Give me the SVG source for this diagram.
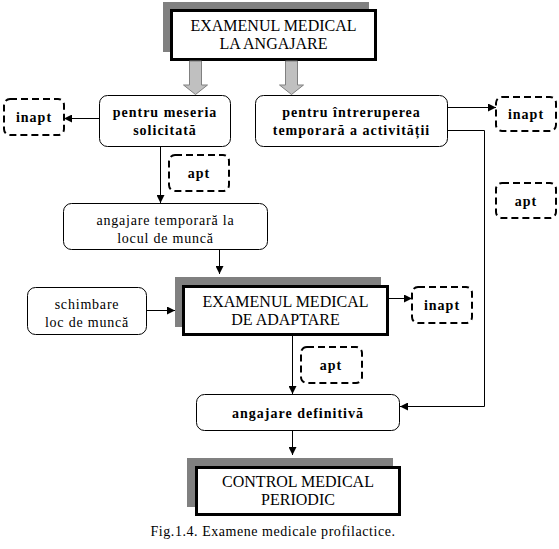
<svg xmlns="http://www.w3.org/2000/svg" width="559" height="549" viewBox="0 0 559 549" font-family="Liberation Serif, Times New Roman, serif">
<style>
text{font-family:'Liberation Serif','Times New Roman',serif;fill:#000;text-anchor:middle}
.t{font-size:16px}
.b{font-size:14px;font-weight:bold;letter-spacing:1px}
.r{font-size:14px;letter-spacing:0.8px}
.cap{font-size:14px;letter-spacing:0.55px}
.shadow{fill:#808080}
.main{fill:#fff;stroke:#000;stroke-width:3}
.rnd{fill:#fff;stroke:#000;stroke-width:1}
.dash{fill:#fff;stroke:#000;stroke-width:2;stroke-dasharray:7 4}
.ln{fill:none;stroke:#000;stroke-width:1}
.garrow{fill:#c0c0c0;stroke:#808080;stroke-width:1}
</style>
<defs>
<marker id="ah" viewBox="0 0 8 8" refX="8" refY="4" markerWidth="8" markerHeight="8" markerUnits="userSpaceOnUse" orient="auto">
<path d="M0,0 L8,4 L0,8 z" fill="#000"/>
</marker>
</defs>

<g id="exam-angajare">
<rect class="shadow" x="163" y="2" width="206" height="50"/>
<rect class="main" x="171.5" y="10.5" width="204" height="49"/>
<text class="t" x="273.5" y="31">EXAMENUL MEDICAL</text>
<text class="t" x="273.5" y="49">LA ANGAJARE</text>
</g>

<g id="gray-arrows">
<path class="garrow" d="M189.5,61 H201.5 V85 H207.5 L195.5,94.5 L183.5,85 H189.5 Z"/>
<path class="garrow" d="M285.5,61 H297.5 V85 H303.5 L291.5,94.5 L279.5,85 H285.5 Z"/>
</g>

<g id="meseria">
<rect class="rnd" x="99.5" y="95.5" width="131" height="51" rx="8"/>
<text class="b" x="165" y="117">pentru meseria</text>
<text class="b" x="165" y="135">solicitată</text>
</g>

<g id="intreruperea">
<rect class="rnd" x="255.5" y="95.5" width="192" height="51" rx="8"/>
<text class="b" x="351.5" y="117">pentru întreruperea</text>
<text class="b" x="351.5" y="135">temporară a activității</text>
</g>

<g id="inapt-left">
<rect class="dash" x="4" y="99" width="60" height="36" rx="6"/>
<text class="b" x="34" y="122">inapt</text>
</g>

<g id="apt-left">
<rect class="dash" x="169" y="155" width="60" height="36" rx="6"/>
<text class="b" x="199" y="178">apt</text>
</g>

<g id="inapt-right">
<rect class="dash" x="496" y="97" width="60" height="34" rx="6"/>
<text class="b" x="526" y="119">inapt</text>
</g>

<g id="apt-right">
<rect class="dash" x="496" y="183" width="60" height="35" rx="6"/>
<text class="b" x="526" y="206">apt</text>
</g>

<g id="temporara">
<rect class="rnd" x="63.5" y="203.5" width="204" height="46" rx="8"/>
<text class="r" x="165.5" y="225">angajare temporară la</text>
<text class="r" x="165.5" y="243">locul de muncă</text>
</g>

<g id="schimbare">
<rect class="rnd" x="27.5" y="287.5" width="119" height="47" rx="8"/>
<text class="r" x="87" y="309">schimbare</text>
<text class="r" x="87" y="327">loc de muncă</text>
</g>

<g id="exam-adaptare">
<rect class="shadow" x="175" y="277" width="206" height="50"/>
<rect class="main" x="183.5" y="286.5" width="204" height="48"/>
<text class="t" x="285.5" y="307">EXAMENUL MEDICAL</text>
<text class="t" x="285.5" y="325">DE ADAPTARE</text>
</g>

<g id="inapt-adaptare">
<rect class="dash" x="412" y="287" width="60" height="36" rx="6"/>
<text class="b" x="442" y="310">inapt</text>
</g>

<g id="apt-adaptare">
<rect class="dash" x="301" y="347" width="61" height="36" rx="6"/>
<text class="b" x="331" y="370">apt</text>
</g>

<g id="definitiva">
<rect class="rnd" x="196.5" y="394.5" width="203" height="36" rx="8"/>
<text class="b" x="298" y="418">angajare definitivă</text>
</g>

<g id="control">
<rect class="shadow" x="187" y="458" width="206" height="49"/>
<rect class="main" x="196.5" y="467.5" width="203" height="47"/>
<text class="t" x="298" y="487">CONTROL MEDICAL</text>
<text class="t" x="298" y="505">PERIODIC</text>
</g>

<g id="connectors">
<path class="ln" d="M99,118.5 H64" marker-end="url(#ah)"/>
<path class="ln" d="M160.5,147 V203" marker-end="url(#ah)"/>
<path class="ln" d="M448,107.5 H496" marker-end="url(#ah)"/>
<path class="ln" d="M448,130.5 H484.5 V406.5 H400" marker-end="url(#ah)"/>
<path class="ln" d="M219.5,250 V274" marker-end="url(#ah)"/>
<path class="ln" d="M147,310.5 H175" marker-end="url(#ah)"/>
<path class="ln" d="M389,298.5 H412" marker-end="url(#ah)"/>
<path class="ln" d="M292.5,336 V394" marker-end="url(#ah)"/>
<path class="ln" d="M292.5,431 V455" marker-end="url(#ah)"/>
</g>

<text class="cap" x="273" y="536">Fig.1.4. Examene medicale profilactice.</text>
</svg>
